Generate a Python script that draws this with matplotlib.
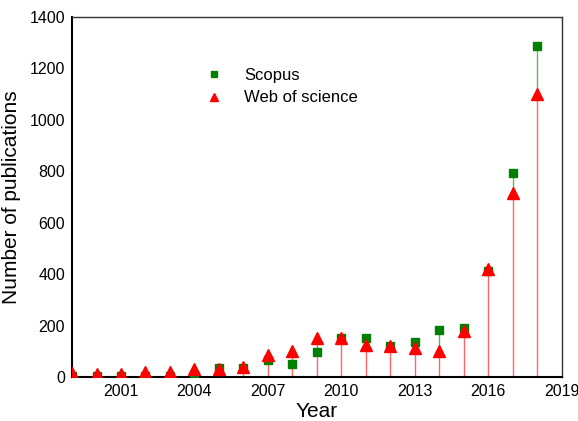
import numpy as np
import matplotlib.pyplot as plt

plt.rcParams['font.family'] = ['Liberation Sans', 'DejaVu Sans']

years = np.arange(1999, 2019)
scopus = [5, 3, 3, 5, 5, 8, 35, 35, 65, 52, 98, 152, 150, 120, 135, 183, 190, 412, 794, 1288]
wos = [15, 12, 12, 18, 18, 30, 32, 38, 85, 102, 150, 150, 125, 120, 112, 102, 180, 420, 716, 1101]
xticks = [2001, 2004, 2007, 2010, 2013, 2016, 2019]

fig = plt.figure(figsize=(5.78, 4.21), dpi=100)
ax = fig.add_axes([0.1246, 0.1045, 0.8474, 0.8555])

# stems: red from zero, green only where it rises above the red one
ax.vlines(years, np.minimum(scopus, wos), scopus, color='#5cb85c', lw=1, zorder=1)
ax.vlines(years, 0, wos, color='#ff6666', lw=1, zorder=2)

ax.plot(years, scopus, 's', color='green', ms=6, ls='none', label='Scopus', zorder=3)
ax.plot(years, wos, '^', color='red', ms=9, ls='none', label='Web of science', zorder=4)

ax.set_xlim(1999, 2019)
ax.set_ylim(0, 1400)
ax.set_xticks(xticks)
ax.set_yticks(np.arange(0, 1401, 200))
ax.tick_params(length=0, labelsize=11.5, pad=5)
ax.set_xlabel('Year', fontsize=15, labelpad=2)
ax.set_ylabel('Number of publications', fontsize=15, labelpad=6)

for s in ['left', 'bottom']:
    ax.spines[s].set_linewidth(1.5)
for s in ['top', 'right']:
    ax.spines[s].set_linewidth(1.0)
    ax.spines[s].set_color('#333333')

leg = ax.legend(loc='upper left', bbox_to_anchor=(0.225, 0.90), frameon=False,
                fontsize=12, markerscale=0.7, handletextpad=0.8, labelspacing=0.45)

fig.savefig('out.png', dpi=100)
